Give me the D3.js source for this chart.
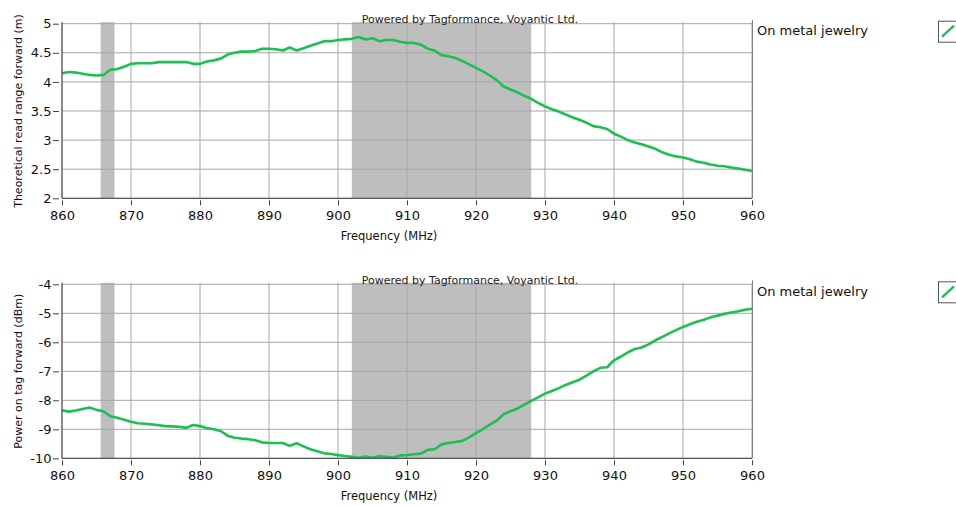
<!DOCTYPE html>
<html>
<head>
<meta charset="utf-8">
<script src="https://cdn.jsdelivr.net/npm/d3@7"></script>
<style>
  body { margin: 0; background: #fff; }
  svg { display: block; font-family: "DejaVu Sans", sans-serif; }
  .grid line { stroke: #a6a6a6; stroke-width: 1; }
  .axis path, .axis line { stroke: #404040; }
</style>
</head>
<body>
<div id="chart"></div>
<script>
// measurement frequencies (MHz), 1 MHz steps
var freqs = d3.range(860, 961, 1);

// theoretical read range forward (m)
var readRange = [
  4.15, 4.17, 4.16, 4.14, 4.12, 4.11, 4.12, 4.21, 4.22, 4.26,
  4.31, 4.32, 4.32, 4.32, 4.34, 4.34, 4.34, 4.34, 4.34, 4.31,
  4.31, 4.35, 4.37, 4.40, 4.47, 4.50, 4.52, 4.52, 4.53, 4.57,
  4.57, 4.56, 4.54, 4.59, 4.54, 4.58, 4.62, 4.66, 4.70, 4.70,
  4.72, 4.73, 4.74, 4.77, 4.73, 4.75, 4.70, 4.72, 4.72, 4.69,
  4.67, 4.67, 4.64, 4.57, 4.54, 4.46, 4.44, 4.41, 4.36, 4.30,
  4.24, 4.18, 4.11, 4.03, 3.92, 3.87, 3.82, 3.76, 3.71, 3.64,
  3.58, 3.53, 3.49, 3.44, 3.39, 3.35, 3.30, 3.24, 3.22, 3.19,
  3.11, 3.06, 3.00, 2.96, 2.93, 2.89, 2.85, 2.79, 2.75, 2.72,
  2.70, 2.67, 2.63, 2.61, 2.58, 2.56, 2.55, 2.53, 2.51, 2.49,
  2.47
];

// power on tag forward (dBm)
var powerOnTag = [
  -8.34, -8.39, -8.35, -8.30, -8.25, -8.33, -8.38, -8.55, -8.60, -8.67,
  -8.74, -8.79, -8.81, -8.83, -8.86, -8.89, -8.90, -8.91, -8.95, -8.85,
  -8.89, -8.96, -9.00, -9.06, -9.22, -9.29, -9.32, -9.34, -9.38, -9.45,
  -9.47, -9.47, -9.47, -9.57, -9.48, -9.59, -9.69, -9.76, -9.83, -9.85,
  -9.89, -9.92, -9.95, -9.98, -9.94, -9.98, -9.93, -9.95, -9.97, -9.90,
  -9.89, -9.86, -9.84, -9.71, -9.69, -9.52, -9.47, -9.44, -9.40, -9.28,
  -9.13, -8.99, -8.84, -8.70, -8.48, -8.38, -8.29, -8.15, -8.02, -7.90,
  -7.77, -7.68, -7.58, -7.47, -7.38, -7.29, -7.15, -7.00, -6.88, -6.86,
  -6.62, -6.49, -6.35, -6.23, -6.18, -6.07, -5.93, -5.81, -5.69, -5.58,
  -5.47, -5.38, -5.29, -5.22, -5.14, -5.08, -5.02, -4.97, -4.93, -4.88,
  -4.84
];

// shaded frequency bands (MHz)
var bands = [[865.6, 867.6], [902, 928]];

var xTicks = [860, 870, 880, 890, 900, 910, 920, 930, 940, 950, 960];
var rangeTicks = [2, 2.5, 3, 3.5, 4, 4.5, 5];
var powerTicks = [-10, -9, -8, -7, -6, -5, -4];

var seriesName = "On metal jewelry";
var credit = "Powered by Tagformance, Voyantic Ltd.";
var green = "#1cbf52";

var svgWidth = 956, svgHeight = 506;
var svg = d3.select("#chart").append("svg")
  .attr("width", svgWidth)
  .attr("height", svgHeight);

function drawPanel(opts) {
  var left = 62, right = 752;
  var x = d3.scaleLinear().domain([860, 960]).range([left, right]);
  var y = d3.scaleLinear().domain(opts.domain).range([opts.bottom, opts.top]);

  var g = svg.append("g");

  // shaded bands
  g.selectAll("rect.band")
    .data(bands)
    .enter()
    .append("rect")
    .attr("class", "band")
    .attr("x", d => x(d[0]))
    .attr("width", d => x(d[1]) - x(d[0]))
    .attr("y", opts.top - 1.5)
    .attr("height", opts.bottom - opts.top + 1.5)
    .attr("fill", "#bebebe");

  // grid
  var grid = g.append("g").attr("class", "grid");
  grid.selectAll("line.v")
    .data(xTicks)
    .enter()
    .append("line")
    .attr("x1", d => x(d)).attr("x2", d => x(d))
    .attr("y1", opts.top - 1.5).attr("y2", opts.bottom);
  grid.selectAll("line.h")
    .data(opts.ticks)
    .enter()
    .append("line")
    .attr("x1", left).attr("x2", right)
    .attr("y1", d => y(d)).attr("y2", d => y(d));

  // right border
  g.append("line")
    .attr("x1", right + 0.5).attr("x2", right + 0.5)
    .attr("y1", opts.top - 4).attr("y2", opts.bottom)
    .attr("stroke", "#808080");

  // data line
  var line = d3.line()
    .x((d, i) => x(freqs[i]))
    .y(d => y(d));
  g.append("path")
    .datum(opts.values)
    .attr("fill", "none")
    .attr("stroke", green)
    .attr("stroke-width", 2.6)
    .attr("stroke-linejoin", "round")
    .attr("d", line);

  // axes
  var yAxis = g.append("g")
    .attr("class", "axis")
    .attr("transform", `translate(${left}, 0)`)
    .call(d3.axisLeft(y).tickValues(opts.ticks).tickSize(4).tickPadding(3)
      .tickFormat(d => String(d)));
  yAxis.select(".domain").attr("d", `M0,${opts.top - 1.5}V${opts.bottom}`);
  yAxis.selectAll(".tick line").attr("x1", -3).attr("x2", -9);
  yAxis.selectAll(".tick text")
    .attr("x", -10.5)
    .attr("font-size", "13px")
    .attr("font-family", "DejaVu Sans")
    .attr("fill", "#111");

  var xAxis = g.append("g")
    .attr("class", "axis")
    .attr("transform", `translate(0, ${opts.bottom})`)
    .call(d3.axisBottom(x).tickValues(xTicks).tickSize(4).tickPadding(3)
      .tickFormat(d => String(d)));
  xAxis.select(".domain").attr("d", `M${left},0H${right}`);
  xAxis.selectAll(".tick line").attr("y1", 2).attr("y2", 7);
  xAxis.selectAll(".tick text")
    .attr("y", 12.5)
    .attr("font-size", "13px")
    .attr("font-family", "DejaVu Sans")
    .attr("fill", "#111");

  // axis labels
  g.append("text")
    .attr("x", 389)
    .attr("y", opts.bottom + 41.5)
    .attr("text-anchor", "middle")
    .attr("font-size", "11.5px")
    .attr("fill", "#111")
    .text("Frequency (MHz)");

  g.append("text")
    .attr("transform", `translate(22, ${(opts.top + opts.bottom) / 2}) rotate(-90)`)
    .attr("text-anchor", "middle")
    .attr("font-size", "11px")
    .attr("fill", "#111")
    .text(opts.label);

  // credit
  g.append("text")
    .attr("x", 470)
    .attr("y", opts.top - 0.5)
    .attr("text-anchor", "middle")
    .attr("font-size", "11px")
    .attr("fill", "#222")
    .text(credit);

  // legend
  g.append("text")
    .attr("x", 757)
    .attr("y", opts.top + 11.5)
    .attr("font-size", "13px")
    .attr("fill", "#111")
    .text(seriesName);

  g.append("rect")
    .attr("x", 938.5).attr("y", opts.top - 2.5)
    .attr("width", 19).attr("height", 21)
    .attr("fill", "#fff")
    .attr("stroke", "#555");
  g.append("line")
    .attr("x1", 942).attr("y1", opts.top + 13)
    .attr("x2", 954).attr("y2", opts.top + 2)
    .attr("stroke", green)
    .attr("stroke-width", 2.4);
}

drawPanel({
  values: readRange,
  domain: [2, 5],
  ticks: rangeTicks,
  top: 23.7,
  bottom: 198.3,
  label: "Theoretical read range forward (m)"
});

drawPanel({
  values: powerOnTag,
  domain: [-10, -4],
  ticks: powerTicks,
  top: 284.3,
  bottom: 458.3,
  label: "Power on tag forward (dBm)"
});
</script>
</body>
</html>
